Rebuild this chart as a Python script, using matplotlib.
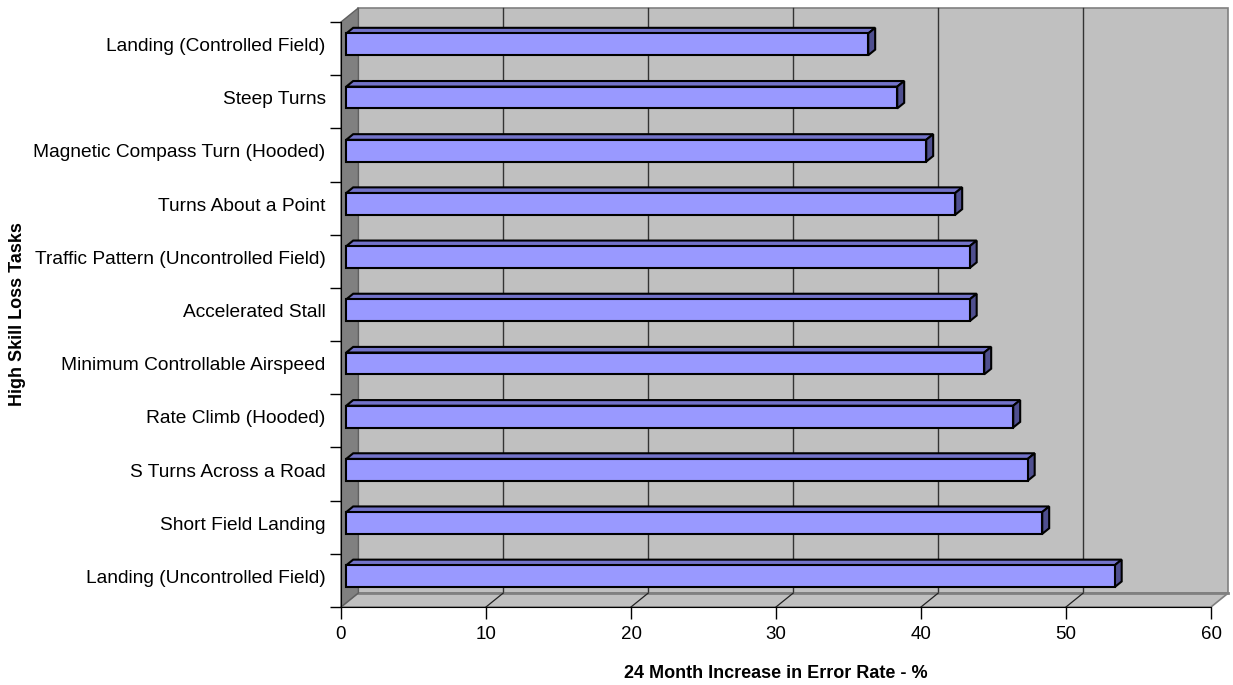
import numpy as np
import matplotlib.pyplot as plt
from matplotlib.patches import Polygon
from matplotlib.transforms import ScaledTranslation

plt.rcParams['font.family'] = ['Liberation Sans', 'DejaVu Sans']

# tasks listed bottom to top
tasks = ["Landing (Uncontrolled Field)", "Short Field Landing", "S Turns Across a Road",
         "Rate Climb (Hooded)", "Minimum Controllable Airspeed", "Accelerated Stall",
         "Traffic Pattern (Uncontrolled Field)", "Turns About a Point",
         "Magnetic Compass Turn (Hooded)", "Steep Turns", "Landing (Controlled Field)"]
increase = [53, 48, 47, 46, 44, 43, 43, 42, 40, 38, 36]
xticks = [0, 10, 20, 30, 40, 50, 60]

fig = plt.figure(figsize=(12.33, 6.85), dpi=100)
ax = fig.add_axes([341/1233, 78/685, 870/1233, 585/685])
ax.set_xlim(0, 60)
ax.set_ylim(-0.5, 10.5)
ax.set_facecolor('none')

# depth of the box in data units
dx = 1.2
dy = 0.265
x0, x1 = 0, 60
y0, y1 = -0.5, len(tasks) - 0.5

# back wall
ax.add_patch(Polygon([(x0+dx, y0+dy), (x1+dx, y0+dy), (x1+dx, y1+dy), (x0+dx, y1+dy)],
                     closed=True, fc='#c0c0c0', ec='#808080', lw=1.2, clip_on=False, zorder=0.5))
for v in xticks[1:-1]:
    ax.plot([v+dx, v+dx], [y0+dy, y1+dy], color='#333333', lw=1, clip_on=False, zorder=0.6)
# floor
ax.add_patch(Polygon([(x0, y0), (x1, y0), (x1+dx, y0+dy), (x0+dx, y0+dy)],
                     closed=True, fc='#c0c0c0', ec='#808080', lw=1.2, clip_on=False, zorder=0.7))
ax.plot([x0+dx, x1+dx], [y0+dy, y0+dy], color='#808080', lw=2, clip_on=False, zorder=0.75)
for v in xticks[1:-1]:
    ax.plot([v, v+dx], [y0, y0+dy], color='#222222', lw=0.9, clip_on=False, zorder=0.8)
# left wall
ax.add_patch(Polygon([(x0, y0), (x0, y1), (x0+dx, y1+dy), (x0+dx, y0+dy)],
                     closed=True, fc='#808080', ec='#606060', lw=1, clip_on=False, zorder=0.9))

# 3d bars
d0, d1 = 0.3, 0.7
h = 0.205
for i, v in enumerate(increase):
    front = [(d0*dx, i-h+d0*dy), (v+d0*dx, i-h+d0*dy), (v+d0*dx, i+h+d0*dy), (d0*dx, i+h+d0*dy)]
    top = [(d0*dx, i+h+d0*dy), (v+d0*dx, i+h+d0*dy), (v+d1*dx, i+h+d1*dy), (d1*dx, i+h+d1*dy)]
    side = [(v+d0*dx, i-h+d0*dy), (v+d1*dx, i-h+d1*dy), (v+d1*dx, i+h+d1*dy), (v+d0*dx, i+h+d0*dy)]
    ax.add_patch(Polygon(top, closed=True, fc='#7373c9', ec='black', lw=1.5, zorder=3, clip_on=False))
    ax.add_patch(Polygon(side, closed=True, fc='#4f4f8f', ec='black', lw=1.5, zorder=3, clip_on=False))
    ax.add_patch(Polygon(front, closed=True, fc='#9999ff', ec='black', lw=1.5, zorder=4, clip_on=False))

# axes
for s in ['top', 'right']:
    ax.spines[s].set_visible(False)
ax.spines['left'].set_color('black')
ax.spines['bottom'].set_color('black')
ax.set_xticks(xticks)
ax.tick_params(axis='x', length=8.5, width=1, pad=5, labelsize=13.5)
ax.set_yticks(np.arange(len(tasks)))
ax.set_yticklabels(tasks)
ax.tick_params(axis='y', which='major', length=0, pad=11, labelsize=13.8)
ax.set_yticks(np.arange(len(tasks) + 1) - 0.5, minor=True)
ax.tick_params(axis='y', which='minor', length=8, width=1)
for lbl in ax.get_yticklabels():
    lbl.set_transform(lbl.get_transform() + ScaledTranslation(0, 4/100, fig.dpi_scale_trans))

ax.set_xlabel('24 Month Increase in Error Rate - %', fontweight='bold', fontsize=13)
ax.xaxis.set_label_coords(0.5, -0.099)
ax.set_ylabel('High Skill Loss Tasks', fontweight='bold', fontsize=13)
ax.yaxis.set_label_coords(-0.362, 0.5)

plt.savefig('out.png', dpi=100)
